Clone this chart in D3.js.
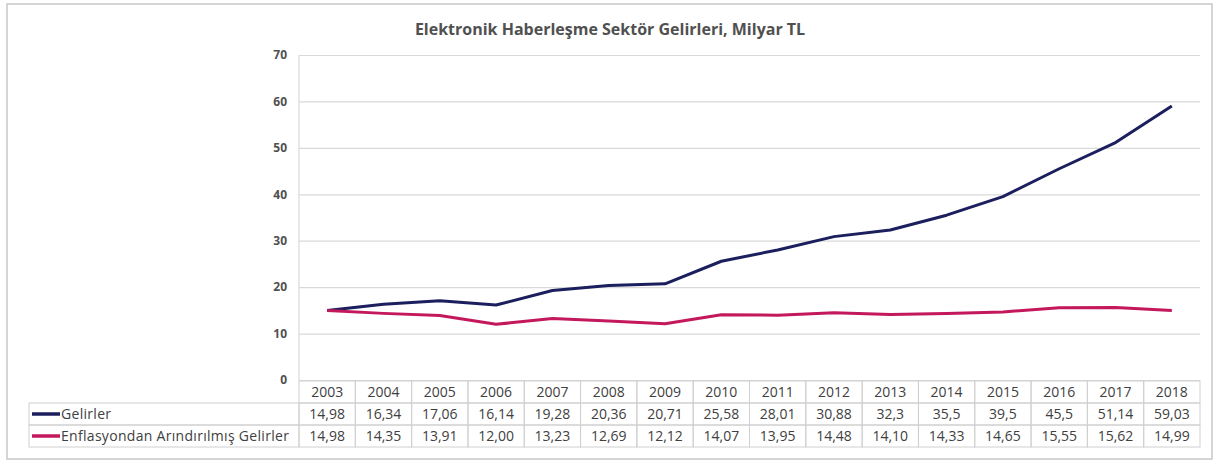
<!DOCTYPE html>
<html>
<head>
<meta charset="utf-8">
<script src="https://cdn.jsdelivr.net/npm/d3@7"></script>
<style>
  body { margin: 0; background: #fff; }
  svg { font-family: "Open Sans", Lato, sans-serif; }
</style>
</head>
<body>
<div id="root"></div>
<script>
//DATA
const years = ["2003","2004","2005","2006","2007","2008","2009","2010","2011","2012","2013","2014","2015","2016","2017","2018"];
const gelirler = [14.98,16.34,17.06,16.14,19.28,20.36,20.71,25.58,28.01,30.88,32.3,35.5,39.5,45.5,51.14,59.03];
const arindirilmis = [14.98,14.35,13.91,12.00,13.23,12.69,12.12,14.07,13.95,14.48,14.10,14.33,14.65,15.55,15.62,14.99];
// labels as shown in the table (comma decimals)
const gelirlerText = ["14,98","16,34","17,06","16,14","19,28","20,36","20,71","25,58","28,01","30,88","32,3","35,5","39,5","45,5","51,14","59,03"];
const arindirilmisText = ["14,98","14,35","13,91","12,00","13,23","12,69","12,12","14,07","13,95","14,48","14,10","14,33","14,65","15,55","15,62","14,99"];
const yTicks = [0,10,20,30,40,50,60,70];
const seriesNames = ["Gelirler", "Enflasyondan Arındırılmış Gelirler"];
const seriesColors = ["#1b1f5e", "#c4185c"];

//DIMENSIONS
const width = 1216, height = 461;
const plot = {left: 299, right: 1200, top: 55, bottom: 380};
const rowH = 22;

const svg = d3.select('#root')
  .append('svg')
  .attr('width', width)
  .attr('height', height);

// outer frame
svg.append('rect')
  .attr('x', 7).attr('y', 4)
  .attr('width', 1205).attr('height', 455)
  .attr('fill', '#fff')
  .attr('stroke', '#c8c8c8')
  .attr('stroke-width', 1.5);

// title
svg.append('text')
  .attr('x', 610).attr('y', 35)
  .attr('text-anchor', 'middle')
  .attr('font-size', 16)
  .attr('font-weight', 'bold')
  .attr('fill', '#505050')
  .text('Elektronik Haberleşme Sektör Gelirleri, Milyar TL');

//SCALES
const x = d3.scaleBand()
  .domain(years)
  .range([plot.left, plot.right]);

const y = d3.scaleLinear()
  .domain([0, 70])
  .range([plot.bottom, plot.top]);

//GRIDLINES + Y AXIS
const yAxis = svg.append('g')
  .attr('transform', `translate(${plot.left},0)`)
  .call(d3.axisLeft(y).tickValues(yTicks).tickSize(-(plot.right - plot.left)).tickPadding(12));
yAxis.select('.domain').remove();
yAxis.selectAll('.tick line').attr('stroke', '#d9d9d9').attr('stroke-width', 1.2);
yAxis.selectAll('.tick text')
  .attr('font-size', 12).attr('font-weight', 'bold').attr('fill', '#505050')
  .attr('font-family', '"Open Sans", sans-serif');

// vertical axis line
svg.append('line')
  .attr('x1', plot.left).attr('x2', plot.left)
  .attr('y1', plot.top).attr('y2', plot.bottom)
  .attr('stroke', '#d9d9d9').attr('stroke-width', 1.2);

//LINES
const line = d3.line()
  .x((d, i) => x(years[i]) + x.bandwidth() / 2)
  .y(d => y(d));

[gelirler, arindirilmis].forEach((s, k) => {
  svg.append('path')
    .datum(s)
    .attr('fill', 'none')
    .attr('stroke', seriesColors[k])
    .attr('stroke-width', 3)
    .attr('stroke-linejoin', 'round')
    .attr('d', line);
});

//DATA TABLE
const tbl = svg.append('g');
const tblTop = plot.bottom + 1;
const legendLeft = 29;
const gridColor = '#d0d0d0';
const fs = 14;

// years row cells
years.forEach(yr => {
  tbl.append('rect')
    .attr('x', x(yr)).attr('y', tblTop)
    .attr('width', x.bandwidth()).attr('height', rowH)
    .attr('fill', 'none').attr('stroke', gridColor);
  tbl.append('text')
    .attr('x', x(yr) + x.bandwidth() / 2).attr('y', tblTop + rowH / 2 + 5)
    .attr('text-anchor', 'middle')
    .attr('font-size', fs).attr('fill', '#404040')
    .text(yr);
});

// series rows
[gelirlerText, arindirilmisText].forEach((vals, k) => {
  const ry = tblTop + rowH * (k + 1);
  tbl.append('rect')
    .attr('x', legendLeft).attr('y', ry)
    .attr('width', plot.left - legendLeft).attr('height', rowH)
    .attr('fill', 'none').attr('stroke', gridColor);
  tbl.append('line')
    .attr('x1', legendLeft + 3).attr('x2', legendLeft + 31)
    .attr('y1', ry + rowH / 2).attr('y2', ry + rowH / 2)
    .attr('stroke', seriesColors[k]).attr('stroke-width', 3.5);
  tbl.append('text')
    .attr('x', legendLeft + 32).attr('y', ry + rowH / 2 + 5)
    .attr('font-size', fs).attr('letter-spacing', 0.3).attr('fill', '#404040')
    .text(seriesNames[k]);
  vals.forEach((v, i) => {
    tbl.append('rect')
      .attr('x', x(years[i])).attr('y', ry)
      .attr('width', x.bandwidth()).attr('height', rowH)
      .attr('fill', 'none').attr('stroke', gridColor);
    tbl.append('text')
      .attr('x', x(years[i]) + x.bandwidth() / 2).attr('y', ry + rowH / 2 + 5)
      .attr('text-anchor', 'middle')
      .attr('font-size', fs).attr('fill', '#404040')
      .text(v);
  });
});
</script>
</body>
</html>
